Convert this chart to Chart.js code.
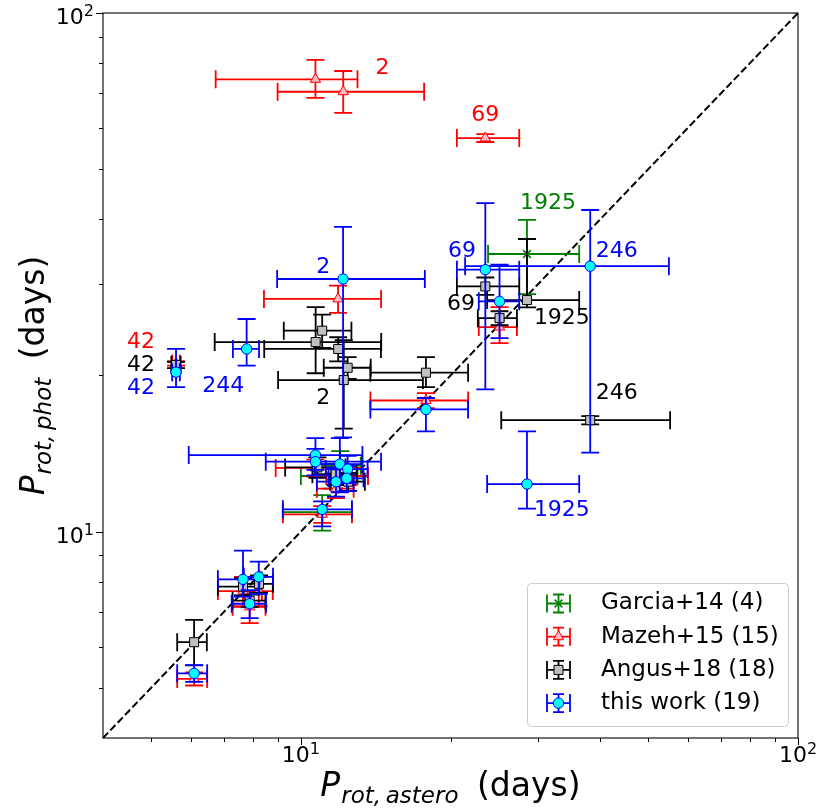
<!DOCTYPE html>
<html>
<head>
<meta charset="utf-8">
<script src="https://cdn.jsdelivr.net/npm/chart.js@4.4.0/dist/chart.umd.min.js"></script>
<style>
  html, body { margin: 0; padding: 0; background: #fff; }
  #c { display: block; }
</style>
</head>
<body>
<canvas id="c" width="819" height="808"></canvas>
<script>
// axis limits (both axes, log)
const AX_MIN = 4, AX_MAX = 100;
const minorTicks = [5, 6, 7, 8, 9, 20, 30, 40, 50, 60, 70, 80, 90];
const majorTicks = [{ v: 10, exp: '1' }, { v: 100, exp: '2' }];

// Garcia+14
const garciaX   = [28.5, 11.04, 12.0, 11.5];
const garciaY   = [34.3, 10.9, 13.4, 12.8];
const garciaXLo = [4.7, 1.84, 1.2, 1.5];
const garciaXHi = [7.8, 1.63, 1.2, 1.5];
const garciaYLo = [5.6, 0.86, 0.9, 0.7];
const garciaYHi = [5.6, 0.86, 0.9, 0.7];

// Mazeh+15
const mazehX   = [10.7, 12.17, 23.5, 11.88, 25.1, 5.61, 17.85, 10.7, 11.77, 12.45, 11.04, 7.65, 7.89, 6.10, 8.23];
const mazehY   = [74.5, 70.5, 57.4, 28.1, 24.8, 21.1, 17.9, 13.27, 12.1, 12.8, 10.8, 7.68, 7.16, 5.2, 7.68];
const mazehXLo = [3.96, 3.19, 2.9, 3.45, 2.3, 0.1, 4.05, 1.8, 1.0, 1.2, 1.84, 0.84, 0.6, 0.46, 0.55];
const mazehXHi = [2.3, 5.53, 4.0, 2.62, 2.1, 0.1, 3.85, 2.6, 1.0, 1.2, 1.63, 0.7, 0.6, 0.38, 0.55];
const mazehYLo = [5.9, 6.3, 1.0, 1.7, 1.7, 0.2, 0.6, 0.5, 0.5, 0.5, 0.4, 0.5, 0.5, 0.15, 0.5];
const mazehYHi = [6.7, 6.8, 1.0, 1.7, 2.3, 0.2, 0.6, 0.5, 0.5, 0.5, 0.4, 0.5, 0.5, 0.15, 0.5];

// Angus+18
const angusX   = [5.61, 11.04, 10.71, 11.89, 12.42, 12.2, 17.85, 23.5, 28.5, 25.1, 38.2, 11.75, 12.45, 10.8, 7.65, 8.24, 7.89, 6.10];
const angusY   = [20.96, 24.4, 23.2, 22.5, 20.7, 19.6, 20.25, 29.7, 27.96, 25.8, 16.4, 12.9, 12.48, 13.3, 7.83, 7.93, 7.36, 6.12];
const angusXLo = [0.12, 1.8, 4.0, 3.45, 1.3, 3.2, 4.05, 2.9, 4.8, 2.4, 12.9, 1.2, 1.0, 1.5, 0.84, 0.55, 0.6, 0.46];
const angusXHi = [0.12, 1.6, 3.8, 2.6, 1.4, 5.4, 3.85, 4.0, 7.8, 2.1, 17.1, 1.2, 1.0, 1.5, 0.6, 0.55, 0.6, 0.37];
const angusYLo = [0.3, 1.8, 3.0, 1.2, 1.0, 3.8, 1.25, 1.1, 0.9, 0.8, 0.3, 0.6, 0.5, 0.6, 0.3, 0.3, 0.2, 0.6];
const angusYHi = [0.3, 1.8, 3.9, 1.2, 1.0, 3.8, 1.45, 1.2, 8.7, 0.8, 0.3, 0.6, 0.5, 0.6, 0.3, 0.3, 0.2, 0.64];

// this work
const workX   = [5.61, 7.78, 12.16, 23.5, 38.2, 25.1, 17.85, 28.5, 10.7, 10.7, 11.98, 12.42, 12.37, 11.77, 11.04, 7.65, 8.23, 7.89, 6.10];
const workY   = [20.3, 22.5, 30.7, 32.0, 32.5, 27.8, 17.2, 12.35, 14.05, 13.64, 13.5, 13.2, 12.67, 12.48, 11.04, 8.09, 8.18, 7.26, 5.33];
const workXLo = [0.1, 0.48, 3.2, 2.9, 16.8, 2.3, 4.05, 4.8, 4.75, 2.2, 1.3, 1.2, 1.0, 1.0, 1.84, 0.84, 0.55, 0.63, 0.46];
const workXHi = [0.1, 0.46, 5.6, 4.0, 16.8, 2.4, 3.85, 7.8, 2.6, 3.8, 1.3, 1.2, 1.0, 1.0, 1.63, 0.6, 0.56, 0.62, 0.38];
const workYLo = [1.3, 1.6, 15.5, 13.2, 18.3, 4.2, 1.6, 1.28, 0.9, 0.8, 1.6, 0.8, 0.7, 0.8, 0.8, 0.6, 0.6, 0.45, 0.2];
const workYHi = [2.2, 3.2, 8.0, 11.0, 9.2, 4.9, 0.9, 3.25, 1.1, 0.8, 1.65, 0.8, 0.7, 0.8, 0.4, 1.1, 0.57, 0.45, 0.2];

// star ids written next to some points
const noteText  = ['2', '69', '1925', '69', '246', '69', '1925', '2', '42', '42', '42', '244', '2', '246', '1925'];
const noteX     = [14.6, 23.5, 31.4, 21.1, 43.2, 21.0, 33.5, 11.1, 4.77, 4.77, 4.77, 6.98, 11.1, 43.2, 33.5];
const noteY     = [78.4, 63.6, 43.0, 34.7, 34.7, 27.4, 25.8, 32.4, 23.2, 20.96, 18.9, 19.1, 18.1, 18.5, 11.0];
const noteColor = ['red', 'red', '#008000', 'blue', 'blue', 'black', 'black', 'blue', 'red', 'black', 'blue', 'blue', 'black', 'black', 'blue'];

const legendLabels = ['Garcia+14 (4)', 'Mazeh+15 (15)', 'Angus+18 (18)', 'this work (19)'];

const FONT = '"DejaVu Sans", sans-serif';
const CAP = 9;

function pts(xs, ys) { return xs.map((x, i) => ({ x: x, y: ys[i] })); }

const seriesStyle = [
  { line: '#008000', style: 'crossRot', r: 5.5, fill: '#008000', edge: '#008000', bw: 1.5 },
  { line: 'red', style: 'triangle', r: 6, fill: '#ffb6c1', edge: 'red', bw: 1 },
  { line: 'black', style: 'rect', r: 6.4, fill: '#c0c0c0', edge: 'black', bw: 1 },
  { line: 'blue', style: 'circle', r: 5.2, fill: '#00ffff', edge: 'blue', bw: 1 }
];

const seriesData = [
  { d: pts(garciaX, garciaY), err: [garciaXLo, garciaXHi, garciaYLo, garciaYHi] },
  { d: pts(mazehX, mazehY), err: [mazehXLo, mazehXHi, mazehYLo, mazehYHi] },
  { d: pts(angusX, angusY), err: [angusXLo, angusXHi, angusYLo, angusYHi] },
  { d: pts(workX, workY), err: [workXLo, workXHi, workYLo, workYHi] }
];

function drawBar(ctx, px, py, xl, xr, yb, yt) {
  ctx.beginPath();
  ctx.moveTo(px, yb); ctx.lineTo(px, yt);
  ctx.moveTo(xl, py); ctx.lineTo(xr, py);
  ctx.moveTo(xl, py - CAP); ctx.lineTo(xl, py + CAP);
  ctx.moveTo(xr, py - CAP); ctx.lineTo(xr, py + CAP);
  ctx.moveTo(px - CAP, yb); ctx.lineTo(px + CAP, yb);
  ctx.moveTo(px - CAP, yt); ctx.lineTo(px + CAP, yt);
  ctx.stroke();
}

const errorBars = {
  id: 'errorBars',
  beforeDatasetDraw(chart, args) {
    const ds = chart.data.datasets[args.index];
    if (!ds.err) return;
    const { ctx, chartArea: a } = chart;
    const sx = chart.scales.x, sy = chart.scales.y;
    const [xLo, xHi, yLo, yHi] = ds.err;
    ctx.save();
    ctx.beginPath();
    ctx.rect(a.left, a.top, a.right - a.left, a.bottom - a.top);
    ctx.clip();
    ctx.strokeStyle = ds.barColor;
    ctx.lineWidth = 1.8;
    ds.data.forEach((p, i) => {
      drawBar(ctx,
        sx.getPixelForValue(p.x), sy.getPixelForValue(p.y),
        sx.getPixelForValue(p.x - xLo[i]), sx.getPixelForValue(p.x + xHi[i]),
        sy.getPixelForValue(p.y - yLo[i]), sy.getPixelForValue(p.y + yHi[i]));
    });
    ctx.restore();
  }
};

function powLabel(ctx, exp, x, y, align) {
  ctx.font = '22px ' + FONT;
  const wb = ctx.measureText('10').width;
  ctx.font = '16px ' + FONT;
  const we = ctx.measureText(exp).width;
  const left = align === 'center' ? x - (wb + we) / 2 : x - (wb + we);
  ctx.textAlign = 'left';
  ctx.textBaseline = 'alphabetic';
  ctx.font = '22px ' + FONT;
  ctx.fillText('10', left, y);
  ctx.font = '16px ' + FONT;
  ctx.fillText(exp, left + wb, y - 8);
}

// P_{sub} (days) title, drawn left to right around (0,0)
function titleParts(ctx, sub) {
  const parts = [
    { t: 'P', f: 'italic 33px ' + FONT, dy: 0, gap: 1 },
    { t: sub, f: 'italic 23px ' + FONT, dy: 7, gap: 8 },
    { t: ' (days)', f: '33px ' + FONT, dy: 0, gap: 0 }
  ];
  let total = 0;
  parts.forEach(p => { ctx.font = p.f; p.w = ctx.measureText(p.t).width; total += p.w + p.gap; });
  let x = -total / 2;
  ctx.textAlign = 'left';
  ctx.textBaseline = 'alphabetic';
  parts.forEach(p => { ctx.font = p.f; ctx.fillText(p.t, x, p.dy); x += p.w + p.gap; });
}

function drawMarker(ctx, st, x, y) {
  Chart.helpers.drawPoint(ctx, { pointStyle: st.style, radius: st.r, borderWidth: st.bw, rotation: 0 }, x, y);
}

const frame = {
  id: 'frame',
  afterDraw(chart) {
    const { ctx, chartArea: a } = chart;
    const sx = chart.scales.x, sy = chart.scales.y;
    ctx.save();
    ctx.strokeStyle = 'black';
    ctx.lineWidth = 1.1;
    ctx.strokeRect(a.left, a.top, a.right - a.left, a.bottom - a.top);
    // ticks
    ctx.lineWidth = 1;
    ctx.beginPath();
    minorTicks.forEach(v => {
      const px = Math.round(sx.getPixelForValue(v)) + 0.5;
      ctx.moveTo(px, a.bottom); ctx.lineTo(px, a.bottom + 4);
      const py = Math.round(sy.getPixelForValue(v)) + 0.5;
      ctx.moveTo(a.left, py); ctx.lineTo(a.left - 4, py);
    });
    majorTicks.forEach(t => {
      const px = Math.round(sx.getPixelForValue(t.v)) + 0.5;
      ctx.moveTo(px, a.bottom); ctx.lineTo(px, a.bottom + 7);
      const py = Math.round(sy.getPixelForValue(t.v)) + 0.5;
      ctx.moveTo(a.left, py); ctx.lineTo(a.left - 7, py);
    });
    ctx.stroke();
    ctx.fillStyle = 'black';
    majorTicks.forEach(t => {
      powLabel(ctx, t.exp, sx.getPixelForValue(t.v), a.bottom + 24, 'center');
      powLabel(ctx, t.exp, a.left - 9, sy.getPixelForValue(t.v) + 11, 'right');
    });
    // axis titles
    ctx.save();
    ctx.translate((a.left + a.right) / 2, 796);
    titleParts(ctx, 'rot,\u2009astero');
    ctx.restore();
    ctx.save();
    ctx.translate(44, (a.top + a.bottom) / 2);
    ctx.rotate(-Math.PI / 2);
    titleParts(ctx, 'rot,\u2009phot');
    ctx.restore();
    // star ids
    ctx.font = '22px ' + FONT;
    ctx.textAlign = 'center';
    ctx.textBaseline = 'middle';
    noteText.forEach((t, i) => {
      ctx.fillStyle = noteColor[i];
      ctx.fillText(t, sx.getPixelForValue(noteX[i]), sy.getPixelForValue(noteY[i]));
    });
    // legend
    const L = { x: 527, y: 583, w: 261, h: 143 };
    ctx.beginPath();
    ctx.roundRect(L.x + 0.5, L.y + 0.5, L.w, L.h, 4);
    ctx.fillStyle = 'rgba(255,255,255,0.8)';
    ctx.fill();
    ctx.strokeStyle = '#cccccc';
    ctx.lineWidth = 1;
    ctx.stroke();
    legendLabels.forEach((lab, i) => {
      const st = seriesStyle[i];
      const cy = 603.5 + i * 33.2, cx = 558.5;
      ctx.strokeStyle = st.line;
      ctx.lineWidth = 1.8;
      ctx.beginPath();
      ctx.moveTo(cx - 11.5, cy); ctx.lineTo(cx + 11.5, cy);
      ctx.moveTo(cx - 11.5, cy - 9); ctx.lineTo(cx - 11.5, cy + 9);
      ctx.moveTo(cx + 11.5, cy - 9); ctx.lineTo(cx + 11.5, cy + 9);
      ctx.moveTo(cx, cy - 9); ctx.lineTo(cx, cy + 9);
      ctx.moveTo(cx - 5.5, cy - 9); ctx.lineTo(cx + 5.5, cy - 9);
      ctx.moveTo(cx - 5.5, cy + 9); ctx.lineTo(cx + 5.5, cy + 9);
      ctx.stroke();
      ctx.fillStyle = st.fill;
      ctx.strokeStyle = st.edge;
      ctx.lineWidth = st.bw;
      drawMarker(ctx, st, cx, cy);
      ctx.fillStyle = 'black';
      ctx.font = '23px ' + FONT;
      ctx.textAlign = 'left';
      ctx.textBaseline = 'middle';
      ctx.fillText(lab, 601, cy);
    });
    ctx.restore();
  }
};

const datasets = [{
  type: 'line',
  data: [{ x: AX_MIN, y: AX_MIN }, { x: AX_MAX, y: AX_MAX }],
  borderColor: 'black',
  borderWidth: 2,
  borderDash: [7.4, 3.2],
  pointRadius: 0,
  order: 10
}];
seriesData.forEach((s, i) => {
  const st = seriesStyle[i];
  datasets.push({
    type: 'scatter',
    label: legendLabels[i],
    data: s.d,
    err: s.err,
    barColor: st.line,
    pointStyle: st.style,
    pointRadius: st.r,
    pointHoverRadius: st.r,
    pointBackgroundColor: st.fill,
    pointBorderColor: st.edge,
    pointBorderWidth: st.bw,
    order: 4 - i
  });
});

new Chart(document.getElementById('c'), {
  data: { datasets: datasets },
  plugins: [errorBars, frame],
  options: {
    responsive: false,
    animation: false,
    devicePixelRatio: 1,
    layout: { padding: { top: 13, right: 21, left: 0, bottom: 0 } },
    plugins: { legend: { display: false }, tooltip: { enabled: false } },
    scales: {
      x: {
        type: 'logarithmic', min: AX_MIN, max: AX_MAX,
        ticks: { display: false }, grid: { display: false }, border: { display: false },
        afterFit(s) { s.height = 70; }
      },
      y: {
        type: 'logarithmic', min: AX_MIN, max: AX_MAX,
        ticks: { display: false }, grid: { display: false }, border: { display: false },
        afterFit(s) { s.width = 103; }
      }
    }
  }
});
</script>
</body>
</html>
